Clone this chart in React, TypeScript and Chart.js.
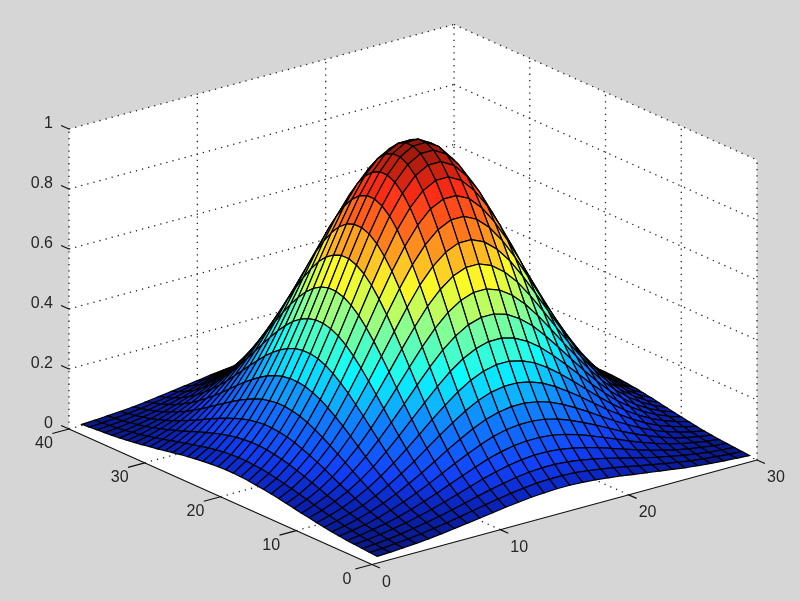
import React, { useEffect, useRef } from "react";
import { Chart, registerables } from "chart.js";

Chart.register(...registerables);

const xTicks = [0, 10, 20, 30];
const yTicks = [0, 10, 20, 30, 40];
const zTicks = [0, 0.2, 0.4, 0.6, 0.8, 1];
const zTickLabels = ["0", "0.2", "0.4", "0.6", "0.8", "1"];

// Surface height, in thousandths; rows are y = 1..40, columns x = 1..30.
const zRows = [
  [4,6,9,12,16,21,27,33,39,45,52,57,62,65,67,67,65,62,57,52,45,39,33,27,21,16,12,9,6,4],
  [6,8,12,16,21,28,35,43,51,60,68,75,81,86,88,88,86,81,75,68,60,51,43,35,28,21,16,12,8,6],
  [8,11,15,21,28,36,45,55,66,77,88,97,105,111,114,114,111,105,97,88,77,66,55,45,36,28,21,15,11,8],
  [10,14,20,27,35,46,57,70,84,98,112,124,134,141,145,145,141,134,124,112,98,84,70,57,46,35,27,20,14,10],
  [12,17,25,33,44,57,72,88,106,123,140,156,168,177,181,181,177,168,156,140,123,106,88,72,57,44,33,25,17,12],
  [15,22,30,41,55,71,89,109,131,153,173,192,208,219,224,224,219,208,192,173,153,131,109,89,71,55,41,30,22,15],
  [18,26,37,50,67,86,109,133,159,186,211,234,253,266,273,273,266,253,234,211,186,159,133,109,86,67,50,37,26,18],
  [22,32,45,60,80,104,131,160,192,224,254,282,305,321,329,329,321,305,282,254,224,192,160,131,104,80,60,45,32,22],
  [26,38,53,72,95,123,155,190,227,265,301,334,361,380,390,390,380,361,334,301,265,227,190,155,123,95,72,53,38,26],
  [31,44,62,84,111,143,181,222,266,310,352,391,422,444,456,456,444,422,391,352,310,266,222,181,143,111,84,62,44,31],
  [35,51,71,96,128,165,209,256,306,357,406,451,486,512,525,525,512,486,451,406,357,306,256,209,165,128,96,71,51,35],
  [40,58,81,110,146,188,237,291,348,406,462,512,553,582,597,597,582,553,512,462,406,348,291,237,188,146,110,81,58,40],
  [45,64,91,123,163,211,266,326,390,455,517,574,619,652,669,669,652,619,574,517,455,390,326,266,211,163,123,91,64,45],
  [50,71,100,136,180,233,293,360,431,502,571,634,684,720,739,739,720,684,634,571,502,431,360,293,233,180,136,100,71,50],
  [54,77,109,148,196,253,320,392,469,547,622,690,745,784,805,805,784,745,690,622,547,469,392,320,253,196,148,109,77,54],
  [58,83,117,158,210,272,343,421,503,587,668,740,799,842,863,863,842,799,740,668,587,503,421,343,272,210,158,117,83,58],
  [61,88,124,168,223,288,363,446,533,622,707,784,846,891,914,914,891,846,784,707,622,533,446,363,288,223,168,124,88,61],
  [64,92,129,175,233,300,379,465,556,649,738,818,883,930,954,954,930,883,818,738,649,556,465,379,300,233,175,129,92,64],
  [66,94,133,180,239,309,390,478,572,667,759,841,908,956,981,981,956,908,841,759,667,572,478,390,309,239,180,133,94,66],
  [67,96,135,183,243,313,395,485,580,677,769,853,921,970,995,995,970,921,853,769,677,580,485,395,313,243,183,135,96,67],
  [67,96,135,183,243,313,395,485,580,677,769,853,921,970,995,995,970,921,853,769,677,580,485,395,313,243,183,135,96,67],
  [66,94,133,180,239,309,390,478,572,667,759,841,908,956,981,981,956,908,841,759,667,572,478,390,309,239,180,133,94,66],
  [64,92,129,175,233,300,379,465,556,649,738,818,883,930,954,954,930,883,818,738,649,556,465,379,300,233,175,129,92,64],
  [61,88,124,168,223,288,363,446,533,622,707,784,846,891,914,914,891,846,784,707,622,533,446,363,288,223,168,124,88,61],
  [58,83,117,158,210,272,343,421,503,587,668,740,799,842,863,863,842,799,740,668,587,503,421,343,272,210,158,117,83,58],
  [54,77,109,148,196,253,320,392,469,547,622,690,745,784,805,805,784,745,690,622,547,469,392,320,253,196,148,109,77,54],
  [50,71,100,136,180,233,293,360,431,502,571,634,684,720,739,739,720,684,634,571,502,431,360,293,233,180,136,100,71,50],
  [45,64,91,123,163,211,266,326,390,455,517,574,619,652,669,669,652,619,574,517,455,390,326,266,211,163,123,91,64,45],
  [40,58,81,110,146,188,237,291,348,406,462,512,553,582,597,597,582,553,512,462,406,348,291,237,188,146,110,81,58,40],
  [35,51,71,96,128,165,209,256,306,357,406,451,486,512,525,525,512,486,451,406,357,306,256,209,165,128,96,71,51,35],
  [31,44,62,84,111,143,181,222,266,310,352,391,422,444,456,456,444,422,391,352,310,266,222,181,143,111,84,62,44,31],
  [26,38,53,72,95,123,155,190,227,265,301,334,361,380,390,390,380,361,334,301,265,227,190,155,123,95,72,53,38,26],
  [22,32,45,60,80,104,131,160,192,224,254,282,305,321,329,329,321,305,282,254,224,192,160,131,104,80,60,45,32,22],
  [18,26,37,50,67,86,109,133,159,186,211,234,253,266,273,273,266,253,234,211,186,159,133,109,86,67,50,37,26,18],
  [15,22,30,41,55,71,89,109,131,153,173,192,208,219,224,224,219,208,192,173,153,131,109,89,71,55,41,30,22,15],
  [12,17,25,33,44,57,72,88,106,123,140,156,168,177,181,181,177,168,156,140,123,106,88,72,57,44,33,25,17,12],
  [10,14,20,27,35,46,57,70,84,98,112,124,134,141,145,145,141,134,124,112,98,84,70,57,46,35,27,20,14,10],
  [8,11,15,21,28,36,45,55,66,77,88,97,105,111,114,114,111,105,97,88,77,66,55,45,36,28,21,15,11,8],
  [6,8,12,16,21,28,35,43,51,60,68,75,81,86,88,88,86,81,75,68,60,51,43,35,28,21,16,12,8,6],
  [4,6,9,12,16,21,27,33,39,45,52,57,62,65,67,67,65,62,57,52,45,39,33,27,21,16,12,9,6,4],
];

const xMax = 30;
const yMax = 40;

// Colour bar as seen in the picture: stop position, then red, green, blue.
const colourStops = [
  [0, 8, 24, 130],
  [0.06, 10, 35, 185],
  [0.125, 18, 64, 250],
  [0.25, 16, 128, 255],
  [0.375, 10, 250, 255],
  [0.5, 130, 255, 150],
  [0.625, 250, 250, 40],
  [0.75, 255, 135, 30],
  [0.875, 255, 45, 22],
  [1, 140, 22, 10],
];

// Axonometric view: pixel position of the data origin and of the three axis extents.
const origin = { x: 372, y: 564.5 };
const xSpan = { x: 385, y: -104.5 };
const ySpan = { x: -303, y: -135.5 };
const zSpan = { x: 0, y: -300 };

function project(x: number, y: number, z: number) {
  return {
    x: origin.x + (x / xMax) * xSpan.x + (y / yMax) * ySpan.x + z * zSpan.x,
    y: origin.y + (x / xMax) * xSpan.y + (y / yMax) * ySpan.y + z * zSpan.y,
  };
}

function colourFor(v: number) {
  const t = Math.max(0, Math.min(1, v));
  for (let k = 1; k < colourStops.length; k++) {
    const lo = colourStops[k - 1];
    const hi = colourStops[k];
    if (t <= hi[0]) {
      const f = (t - lo[0]) / (hi[0] - lo[0]);
      const mix = (c: number) => Math.round(lo[c] + (hi[c] - lo[c]) * f);
      return `rgb(${mix(1)},${mix(2)},${mix(3)})`;
    }
  }
  return "rgb(140,22,10)";
}

function lineSet(points: { x: number; y: number }[], dotted: boolean) {
  return {
    data: points,
    showLine: true,
    fill: false,
    pointRadius: 0,
    borderWidth: dotted ? 1.3 : 1.2,
    borderColor: dotted ? "#222222" : "#111111",
    borderDash: dotted ? [1.3, 5] : [],
    tension: 0,
    clip: false,
  };
}

function buildDatasets() {
  const paint: any[] = [];

  // White back planes and floor
  paint.push({
    data: [
      project(0, 0, 0), project(0, yMax, 0), project(0, yMax, 1), project(xMax, yMax, 1),
      project(xMax, 0, 1), project(xMax, 0, 0), project(0, 0, 0),
    ],
    showLine: true,
    fill: "shape",
    backgroundColor: "#ffffff",
    borderWidth: 0,
    borderColor: "rgba(0,0,0,0)",
    pointRadius: 0,
    tension: 0,
    clip: false,
  });

  const dotted = (a: number[], b: number[]) =>
    paint.push(lineSet([project(a[0], a[1], a[2]), project(b[0], b[1], b[2])], true));
  const solid = (a: number[], b: number[]) =>
    paint.push(lineSet([project(a[0], a[1], a[2]), project(b[0], b[1], b[2])], false));

  for (const x of xTicks) {
    if (x > 0 && x < xMax) dotted([x, 0, 0], [x, yMax, 0]);
    dotted([x, yMax, 0], [x, yMax, 1]);
  }
  for (const y of yTicks) {
    if (y > 0 && y < yMax) dotted([0, y, 0], [xMax, y, 0]);
    if (y < yMax) dotted([xMax, y, 0], [xMax, y, 1]);
  }
  for (const z of zTicks) {
    dotted([0, yMax, z], [xMax, yMax, z]);
    dotted([xMax, yMax, z], [xMax, 0, z]);
  }

  solid([0, 0, 0], [0, yMax, 0]);
  solid([0, 0, 0], [xMax, 0, 0]);
  for (const y of yTicks) solid([0, y, 0], [-1.3, y, 0]);
  for (const x of xTicks) solid([x, 0, 0], [x, -1.05, 0]);
  for (const z of zTicks) solid([0, yMax, z], [0, yMax + 1.05, z]);

  // Surface, back to front
  const ny = zRows.length;
  const nx = zRows[0].length;
  for (let j = ny - 2; j >= 0; j--) {
    for (let i = nx - 2; i >= 0; i--) {
      const a = zRows[j][i] / 1000;
      const b = zRows[j][i + 1] / 1000;
      const c = zRows[j + 1][i + 1] / 1000;
      const d = zRows[j + 1][i] / 1000;
      const x = i + 1;
      const y = j + 1;
      paint.push({
        data: [
          project(x, y, a), project(x + 1, y, b), project(x + 1, y + 1, c),
          project(x, y + 1, d), project(x, y, a),
        ],
        showLine: true,
        fill: "shape",
        backgroundColor: colourFor((a + b + c + d) / 4),
        borderColor: "#000000",
        borderWidth: 1.2,
        pointRadius: 0,
        tension: 0,
        clip: false,
      });
    }
  }
  // Chart.js paints the first dataset last
  return paint.reverse();
}

const tickTextPlugin = {
  id: "tickText",
  afterDraw(chart: any) {
    const { ctx } = chart;
    const px = chart.scales.x;
    const py = chart.scales.y;
    ctx.save();
    ctx.font = '16px "Liberation Sans", Arial, sans-serif';
    ctx.fillStyle = "#262626";
    ctx.textBaseline = "middle";
    zTicks.forEach((z, i) => {
      const p = project(0, yMax, z);
      ctx.textAlign = "right";
      ctx.fillText(zTickLabels[i], px.getPixelForValue(p.x - 16), py.getPixelForValue(p.y - 5));
    });
    yTicks.forEach((y) => {
      const p = project(0, y, 0);
      ctx.textAlign = "center";
      ctx.fillText(String(y), px.getPixelForValue(p.x - 25), py.getPixelForValue(p.y + 15));
    });
    xTicks.forEach((x) => {
      const p = project(x, 0, 0);
      ctx.textAlign = "left";
      ctx.fillText(String(x), px.getPixelForValue(p.x + 10), py.getPixelForValue(p.y + 18));
    });
    ctx.restore();
  },
};

export default function App() {
  const ref = useRef<HTMLCanvasElement>(null);
  useEffect(() => {
    document.body.style.margin = "0";
    const chart = new Chart(ref.current as HTMLCanvasElement, {
      type: "scatter",
      data: { datasets: buildDatasets() },
      options: {
        animation: false,
        responsive: false,
        devicePixelRatio: 1,
        events: [],
        layout: { padding: 0 },
        plugins: { legend: { display: false }, tooltip: { enabled: false } },
        scales: {
          x: { type: "linear", min: 0, max: 800, display: false },
          y: { type: "linear", min: 0, max: 601, reverse: true, display: false },
        },
      },
      plugins: [tickTextPlugin],
    } as any);
    return () => chart.destroy();
  }, []);
  return (
    <div style={{ width: 800, height: 601, background: "#d6d6d6", overflow: "hidden" }}>
      <canvas ref={ref} width={800} height={601} style={{ display: "block", filter: "blur(0.5px)" }} />
    </div>
  );
}
